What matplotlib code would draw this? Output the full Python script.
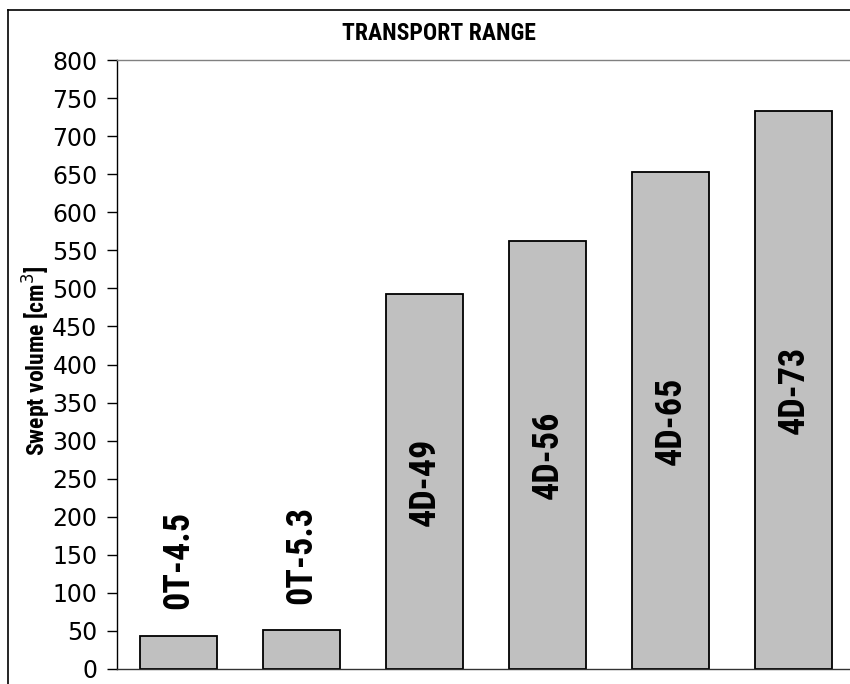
import matplotlib
matplotlib.use("Agg")
import matplotlib.pyplot as plt
from matplotlib import font_manager as fm
from matplotlib.lines import Line2D

categories = ["0T-4.5", "0T-5.3", "4D-49", "4D-56", "4D-65", "4D-73"]
values = [44, 51, 493, 562, 653, 733]
yticks = list(range(0, 801, 50))
title = "TRANSPORT RANGE"
ylabel = "Swept volume [cm$^3$]"

names = {f.name for f in fm.fontManager.ttflist}
cond = "DejaVu Sans"
for cand in ["Liberation Sans Narrow", "DejaVu Sans Condensed", "Roboto Condensed", "Open Sans Condensed"]:
    if cand in names:
        cond = cand
        break

fig = plt.figure(figsize=(8.5, 6.84), dpi=100)
W, H = 850, 684
ax_l, ax_r, ax_t, ax_b = 117, 855, 60, 669
ax = fig.add_axes([ax_l / W, 1 - ax_b / H, (ax_r - ax_l) / W, (ax_b - ax_t) / H])

x = list(range(len(categories)))
ax.bar(x, values, width=0.63, color="#c0c0c0", edgecolor="black", linewidth=1.3, zorder=2)
ax.set_xlim(-0.5, 5.5)
ax.set_ylim(0, 800)
ax.set_yticks(yticks)
ax.set_xticks([])
ax.tick_params(axis="y", direction="out", length=7, width=1, pad=7, labelsize=17, colors="black")
for lab in ax.get_yticklabels():
    lab.set_family("DejaVu Sans")
ax.spines["left"].set_color("black")
ax.spines["left"].set_linewidth(1.0)
ax.spines["bottom"].set_color("#333333")
ax.spines["bottom"].set_linewidth(1.0)
ax.spines["top"].set_color("#808080")
ax.spines["top"].set_linewidth(1.0)
ax.spines["right"].set_visible(False)

for i, (c, v) in enumerate(zip(categories, values)):
    if v < 100:
        ax.annotate(c, (i, v), xytext=(0, 19), textcoords="offset points",
                    rotation=90, ha="center", va="bottom", fontsize=26,
                    fontweight="bold", family=cond, zorder=3)
    else:
        ax.text(i, v / 2, c, rotation=90, ha="center", va="center", fontsize=26,
                fontweight="bold", family=cond, zorder=3)

fig.text(439 / W, 1 - 33 / H, title, ha="center", va="center", fontsize=17,
         fontweight="bold", family=cond)
fig.text(37 / W, 1 - 361 / H, ylabel, ha="center", va="center", rotation=90,
         fontsize=17, fontweight="bold", family=cond)

# outer chart frame (top and left edges visible)
fig.add_artist(Line2D([8 / W, 1.0], [1 - 10 / H, 1 - 10 / H], transform=fig.transFigure,
                      color="black", linewidth=1.2))
fig.add_artist(Line2D([8 / W, 8 / W], [0, 1 - 10 / H], transform=fig.transFigure,
                      color="black", linewidth=1.2))

fig.savefig("out.png", dpi=100)
